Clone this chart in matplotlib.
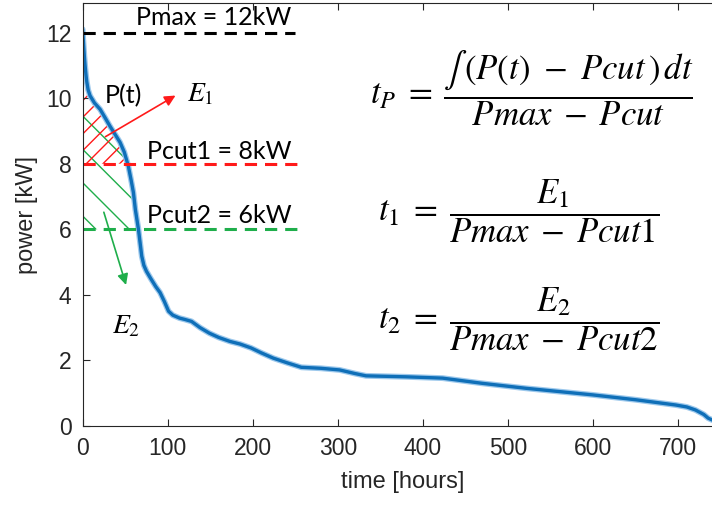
import matplotlib

matplotlib.use("Agg")

import matplotlib.pyplot as plt
import numpy as np

# ---- data (hours, kW) ----
time_h = [0, 0.5, 2, 2.9, 4, 4.9, 6.5, 8.8, 14, 20.5, 26, 32, 38, 44, 49, 53.7, 57,
          59.7, 62, 65.6, 67.5, 69.5, 72, 75, 80, 86, 91, 96, 101, 106, 114, 120,
          128, 138, 149, 160, 173, 185, 198, 210, 224, 240, 257, 280, 302, 320,
          333, 380, 423, 470, 521, 560, 599, 650, 697, 710, 720, 730, 735, 740]
power_kw = [12.1, 11.9, 11.3, 11.0, 10.7, 10.5, 10.25, 10.07, 9.85, 9.66, 9.42,
            9.15, 8.9, 8.65, 8.35, 7.93, 7.5, 7.12, 6.6, 6.0, 5.6, 5.18, 4.9,
            4.72, 4.5, 4.25, 4.07, 3.8, 3.5, 3.38, 3.29, 3.25, 3.19, 3.0, 2.83,
            2.7, 2.58, 2.5, 2.38, 2.23, 2.07, 1.93, 1.79, 1.76, 1.71, 1.6, 1.53,
            1.5, 1.46, 1.3, 1.15, 1.05, 0.95, 0.8, 0.64, 0.58, 0.49, 0.35, 0.24,
            0.18]

P_MAX, P_CUT1, P_CUT2 = 12, 8, 6
x_ticks = [0, 100, 200, 300, 400, 500, 600, 700]
y_ticks = [0, 2, 4, 6, 8, 10, 12]

BLUE = "#0f6fb8"
RED = "#ff1a1a"
GREEN = "#1fae4b"
TXT = "#262626"

plt.rcParams["font.family"] = ["Liberation Sans", "DejaVu Sans"]
plt.rcParams["mathtext.fontset"] = "stix"
plt.rcParams["hatch.linewidth"] = 1.0

t = np.array(time_h, dtype=float)
p = np.array(power_kw, dtype=float)

fig = plt.figure(figsize=(7.12, 5.08), dpi=100)
ax = fig.add_axes([82.6 / 712, 82 / 508, 640 / 712, 423 / 508])

# hatched energy areas (E2 green, E1 red)
ax.fill_between(t, P_CUT2, np.minimum(p, 10.2), where=p >= P_CUT2, interpolate=True,
                facecolor="none", edgecolor=GREEN, hatch="\\", linewidth=0)
ax.fill_between(t, P_CUT1, np.minimum(p, 11.1), where=p >= P_CUT1, interpolate=True,
                facecolor="none", edgecolor=RED, hatch="//", linewidth=0)

# duration curve
ax.plot(t, p, color="#9cc8ec", lw=4.2, solid_capstyle="round")
ax.plot(t, p, color=BLUE, lw=2.4, solid_capstyle="round")

# limit lines
ax.plot([0, 250], [P_MAX, P_MAX], color="black", lw=2.2, dashes=(4, 2.6))
ax.plot([0, 258], [P_CUT1, P_CUT1], color=RED, lw=2.2, dashes=(4, 2.6))
ax.plot([0, 258], [P_CUT2, P_CUT2], color=GREEN, lw=2.2, dashes=(4, 2.6))

lab = dict(fontsize=18, family=["Lato", "DejaVu Sans"], color="black", va="center")
ax.text(63, 12.45, "Pmax = 12kW", **lab)
ax.text(76, 8.38, "Pcut1 = 8kW", **lab)
ax.text(76, 6.42, "Pcut2 = 6kW", **lab)
ax.text(26, 10.08, "P(t)", **lab)

# arrows to E1 / E2
ax.annotate("", xy=(112, 10.12), xytext=(24, 8.78),
            arrowprops=dict(arrowstyle="-|>", color=RED, lw=1.2, mutation_scale=16))
ax.annotate("", xy=(52, 4.22), xytext=(24, 6.6),
            arrowprops=dict(arrowstyle="-|>", color=GREEN, lw=1.2, mutation_scale=16))
ax.text(123, 10.1, r"$E_1$", fontsize=20, va="center")
ax.text(34, 3.05, r"$E_2$", fontsize=20, va="center")

# formulas
fs = 25
ax.text(0.449, 0.80,
        r"$t_P\;=\;\dfrac{\int\,(P(t)\ -\ Pcut\,)\,dt}{Pmax\; -\; Pcut}$",
        transform=ax.transAxes, fontsize=fs, ha="left", va="center")
ax.text(0.461, 0.508, r"$t_1\;=\;\dfrac{E_1}{Pmax\; -\; Pcut1}$",
        transform=ax.transAxes, fontsize=fs, ha="left", va="center")
ax.text(0.462, 0.252, r"$t_2\;=\;\dfrac{E_2}{Pmax\; -\; Pcut2}$",
        transform=ax.transAxes, fontsize=fs, ha="left", va="center")

ax.set_xlim(0, 752)
ax.set_ylim(0, 12.9)
ax.set_xticks(x_ticks)
ax.set_yticks(y_ticks)
ax.tick_params(direction="in", length=5, width=0.8, top=True, right=False,
               labelsize=16.5, labelcolor=TXT, colors=TXT, pad=8)
for side in ("left", "bottom", "top"):
    ax.spines[side].set_color(TXT)
    ax.spines[side].set_linewidth(0.8)
ax.spines["right"].set_visible(False)

ax.set_xlabel("time [hours]", fontsize=17, color=TXT, labelpad=8)
ax.set_ylabel("power [kW]", fontsize=17, color=TXT, labelpad=6)

fig.savefig("out.png", dpi=100)
